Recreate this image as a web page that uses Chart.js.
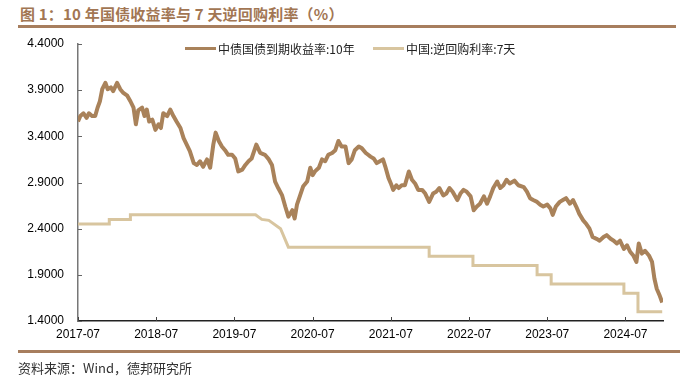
<!DOCTYPE html>
<html><head><meta charset="utf-8">
<script src="https://cdn.jsdelivr.net/npm/chart.js@4/dist/chart.umd.min.js"></script>
<style>
html,body{margin:0;padding:0;background:#fff;width:693px;height:381px;overflow:hidden;font-family:"Liberation Sans",Arial,sans-serif}
#wrap{position:relative;width:693px;height:381px}
#c{position:absolute;left:0;top:0}
.title{position:absolute;left:20px;top:3px;font:bold 15px "Noto Sans CJK SC",sans-serif;color:#a27653;white-space:nowrap;letter-spacing:0.2px}
.rule{position:absolute;left:18px;height:3px;background:#a77e5e}
.src{position:absolute;left:18px;top:358px;font:13px "Noto Sans CJK SC",sans-serif;color:#333;white-space:nowrap}
.leg{position:absolute;top:40px;font:12px "Noto Sans CJK SC",sans-serif;color:#222;white-space:nowrap;display:flex;align-items:center}
.leg i{display:inline-block;width:31px;height:3px;margin-right:2px}
</style></head>
<body><div id="wrap">
<div class="title">图 1：10 年国债收益率与 7 天逆回购利率（%）</div>
<div class="rule" style="top:25px;width:658px;height:2.5px"></div>
<canvas id="c" width="693" height="381"></canvas>
<div class="leg" style="left:185px"><i id="lg1"></i><span id="lt1"></span></div>
<div class="leg" style="left:373px"><i id="lg2"></i><span id="lt2"></span></div>
<div class="rule" style="top:350px;width:662px"></div>
<div class="src">资料来源：Wind，德邦研究所</div>
</div>
<script>
// ---- data ----
const seriesNames = ['中债国债到期收益率:10年', '中国:逆回购利率:7天'];
const tickValues = [2017.5, 2018.5, 2019.5, 2020.5, 2021.5, 2022.5, 2023.5, 2024.5];
const tickLabels = ['2017-07','2018-07','2019-07','2020-07','2021-07','2022-07','2023-07','2024-07'];
const yTicks = [1.4, 1.9, 2.4, 2.9, 3.4, 3.9, 4.4];

// 10Y yield: dates as decimal years
const bondDates = [2017.50,2017.53,2017.57,2017.61,2017.64,2017.68,2017.72,2017.75,2017.78,2017.81,2017.85,2017.88,2017.92,2017.95,2018.00,2018.04,2018.08,2018.13,2018.17,2018.21,2018.24,2018.27,2018.32,2018.35,2018.38,2018.41,2018.45,2018.49,2018.53,2018.56,2018.59,2018.64,2018.68,2018.72,2018.76,2018.81,2018.85,2018.89,2018.93,2018.98,
2019.02,2019.06,2019.10,2019.15,2019.19,2019.23,2019.26,2019.30,2019.34,2019.38,2019.42,2019.47,2019.51,2019.55,2019.60,2019.64,2019.68,2019.72,2019.78,2019.83,2019.89,2019.94,2019.98,
2020.02,2020.06,2020.11,2020.15,2020.19,2020.24,2020.27,2020.30,2020.34,2020.38,2020.43,2020.47,2020.50,2020.53,2020.58,2020.62,2020.66,2020.70,2020.75,2020.79,2020.83,2020.87,2020.92,2020.96,
2021.00,2021.04,2021.09,2021.13,2021.18,2021.21,2021.24,2021.28,2021.32,2021.36,2021.40,2021.43,2021.47,2021.50,2021.53,2021.57,2021.60,2021.64,2021.68,2021.73,2021.77,2021.81,2021.85,2021.90,2021.94,2021.99,
2022.04,2022.08,2022.12,2022.17,2022.21,2022.25,2022.29,2022.35,2022.39,2022.43,2022.47,2022.52,2022.56,2022.60,2022.64,2022.69,2022.73,2022.77,2022.81,2022.86,2022.90,2022.94,2022.98,
2023.02,2023.08,2023.13,2023.20,2023.24,2023.28,2023.32,2023.37,2023.41,2023.45,2023.50,2023.54,2023.57,2023.61,2023.66,2023.70,2023.74,2023.79,2023.83,2023.87,2023.91,2023.96,
2024.00,2024.04,2024.08,2024.13,2024.17,2024.22,2024.26,2024.31,2024.35,2024.39,2024.43,2024.48,2024.52,2024.56,2024.60,2024.64,2024.67,2024.71,2024.75,2024.80,2024.84,2024.87,2024.90,2024.94,2024.97];
const bondYield = [3.56,3.62,3.65,3.60,3.65,3.62,3.62,3.71,3.78,3.91,3.98,3.91,3.93,3.89,3.98,3.91,3.87,3.84,3.78,3.71,3.53,3.68,3.71,3.62,3.69,3.56,3.58,3.47,3.53,3.49,3.65,3.62,3.69,3.62,3.56,3.49,3.38,3.31,3.24,3.11,
3.09,3.13,3.07,3.15,3.06,3.31,3.44,3.35,3.29,3.25,3.20,3.20,3.16,3.02,3.04,3.09,3.13,3.16,3.31,3.22,3.20,3.15,3.09,
2.91,2.84,2.76,2.64,2.53,2.60,2.51,2.66,2.76,2.86,2.91,3.06,2.98,3.02,3.06,3.15,3.13,3.20,3.22,3.25,3.35,3.29,3.29,3.11,
3.15,3.25,3.29,3.27,3.22,3.20,3.18,3.16,3.11,3.13,3.15,3.07,2.95,2.89,2.82,2.87,2.84,2.87,2.87,3.02,2.93,2.89,2.82,2.82,2.78,2.69,
2.78,2.80,2.84,2.76,2.78,2.84,2.80,2.71,2.78,2.82,2.80,2.75,2.60,2.64,2.67,2.75,2.67,2.75,2.84,2.91,2.84,2.87,2.93,
2.89,2.92,2.87,2.85,2.80,2.73,2.71,2.69,2.66,2.64,2.66,2.62,2.55,2.64,2.69,2.71,2.73,2.67,2.71,2.64,2.56,2.49,
2.45,2.40,2.31,2.29,2.27,2.31,2.33,2.29,2.27,2.24,2.27,2.18,2.22,2.15,2.11,2.04,2.24,2.13,2.16,2.11,2.04,1.86,1.75,1.67,1.60];

// 7-day reverse repo rate
const repoDates = [2017.50,2017.90,2017.90,2018.17,2018.17,2019.77,2019.85,2019.94,2020.09,2020.19,2021.99,2021.99,2022.55,2022.55,2023.37,2023.37,2023.55,2023.55,2024.48,2024.48,2024.66,2024.66,2024.97];
const repoRate  = [2.45,2.45,2.50,2.50,2.55,2.55,2.50,2.49,2.40,2.20,2.20,2.10,2.10,2.00,2.00,1.90,1.90,1.80,1.80,1.70,1.70,1.50,1.50];

const colors = ['#a9825a', '#d8c59f'];

document.getElementById('lg1').style.background = colors[0];
document.getElementById('lg2').style.background = colors[1];
document.getElementById('lt1').textContent = seriesNames[0];
document.getElementById('lt2').textContent = seriesNames[1];

const innerTicks = {
  id: 'innerTicks',
  afterDraw(chart) {
    const ctx = chart.ctx, x = chart.scales.x, y = chart.scales.y;
    ctx.save();
    ctx.lineWidth = 1;
    ctx.strokeStyle = '#444';
    x.ticks.forEach(t => {
      const px = Math.round(x.getPixelForValue(t.value)) + 0.5;
      ctx.beginPath(); ctx.moveTo(px, x.top); ctx.lineTo(px, x.top - 4); ctx.stroke();
    });
    ctx.strokeStyle = '#666';
    y.ticks.forEach(t => {
      const py = Math.round(y.getPixelForValue(t.value)) + 0.5;
      ctx.beginPath(); ctx.moveTo(y.right, py); ctx.lineTo(y.right + 4, py); ctx.stroke();
    });
    ctx.restore();
  }
};

new Chart(document.getElementById('c'), {
  type: 'line',
  data: {
    datasets: [
      { label: seriesNames[0], data: bondDates.map((d,i)=>({x:d,y:bondYield[i]})), borderColor: colors[0], borderWidth: 4, pointRadius: 0, tension: 0, borderJoinStyle: 'round', order: 1 },
      { label: seriesNames[1], data: repoDates.map((d,i)=>({x:d,y:repoRate[i]})), borderColor: colors[1], borderWidth: 3, pointRadius: 0, tension: 0, order: 2 }
    ]
  },
  options: {
    responsive: false, animation: false, devicePixelRatio: 1,
    layout: { padding: { left: 0, top: 44, right: 30, bottom: 0 } },
    plugins: { legend: { display: false }, tooltip: { enabled: false } },
    scales: {
      x: {
        type: 'linear', min: 2017.5, max: 2024.98,
        afterBuildTicks: s => { s.ticks = tickValues.map(v => ({ value: v })); },
        afterFit: s => { s.height = 60; },
        grid: { display: true, drawOnChartArea: false, drawTicks: false },
        border: { display: true, color: '#222', width: 1.5 },
        ticks: { padding: 6, color: '#000', font: { family: '"Liberation Sans", Arial', size: 12 }, maxRotation: 0, autoSkip: false,
          callback: (v) => { const i = tickValues.indexOf(v); return i >= 0 ? tickLabels[i] : ''; } }
      },
      y: {
        min: 1.4, max: 4.4,
        afterBuildTicks: s => { s.ticks = yTicks.map(v => ({ value: v })); },
        afterFit: s => { s.width = 78; },
        grid: { display: true, drawOnChartArea: false, drawTicks: false },
        border: { display: true, color: '#777', width: 1.5 },
        ticks: { padding: 14, color: '#000', font: { family: '"Liberation Sans", Arial', size: 12 },
          callback: v => Number(v).toFixed(4) }
      }
    }
  },
  plugins: [innerTicks]
});
</script>
</body></html>
